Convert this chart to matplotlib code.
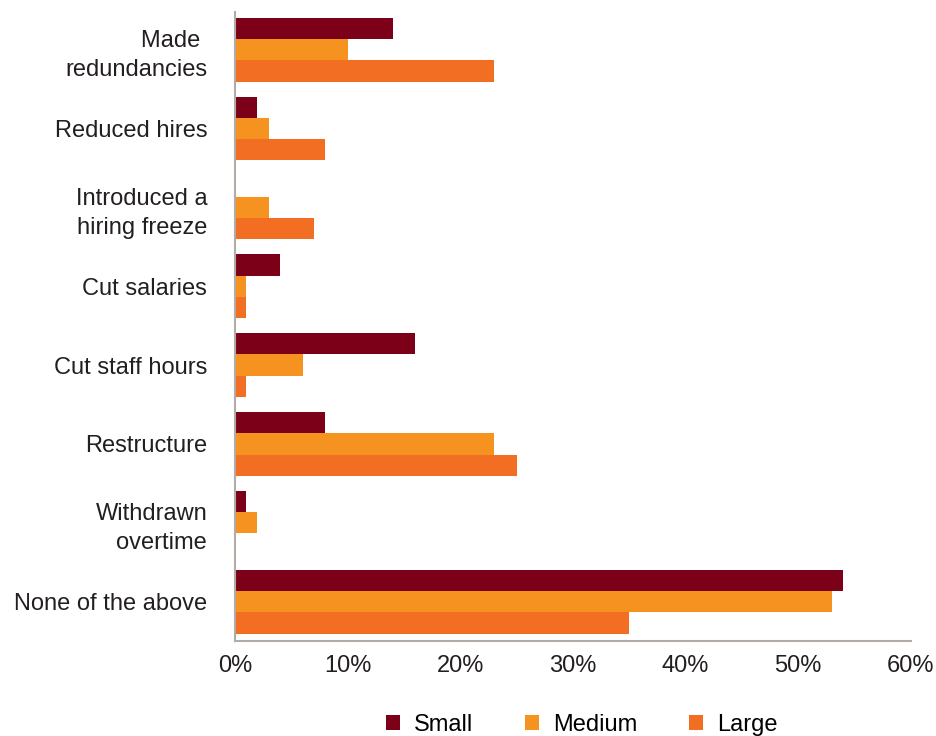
import numpy as np
import matplotlib
matplotlib.use("Agg")
import matplotlib.pyplot as plt
from matplotlib.ticker import FuncFormatter

plt.rcParams["font.family"] = ["Liberation Sans", "DejaVu Sans"]

categories = ["Made \nredundancies", "Reduced hires", "Introduced a\nhiring freeze",
              "Cut salaries", "Cut staff hours", "Restructure",
              "Withdrawn\novertime", "None of the above"]
small = [14, 2, 0, 4, 16, 8, 1, 54]
medium = [10, 3, 3, 1, 6, 23, 2, 53]
large = [23, 8, 7, 1, 1, 25, 0, 35]
series = ["Small", "Medium", "Large"]
colors = ["#7D0019", "#F69320", "#F26E23"]

fig = plt.figure(figsize=(9.36, 7.36), dpi=100)
ax = fig.add_axes([0.251, 0.129, 0.722, 0.855])

y = np.arange(len(categories))
h = 0.27
for i, (vals, name, c) in enumerate(zip([small, medium, large], series, colors)):
    ax.barh(y + (i - 1) * h, vals, height=h, color=c, label=name)

ax.set_ylim(len(categories) - 0.5, -0.48)
ax.set_xlim(0, 60)
ax.set_xticks(range(0, 61, 10))
ax.xaxis.set_major_formatter(FuncFormatter(lambda v, p: f"{v:.0f}%"))
ax.set_yticks(y)
ax.set_yticklabels(categories, ha="right", multialignment="right", linespacing=1.42)
ax.tick_params(axis="y", length=0, pad=20, labelsize=17, colors="#231f20")
ax.tick_params(axis="x", length=0, pad=10, labelsize=17, colors="#231f20")
for s in ["top", "right"]:
    ax.spines[s].set_visible(False)
for s in ["left", "bottom"]:
    ax.spines[s].set_color("#b3aca6")
    ax.spines[s].set_linewidth(1.5)

ax.legend(loc="upper center", bbox_to_anchor=(0.513, -0.082), ncol=3, frameon=False,
          fontsize=17, handlelength=0.6, handleheight=0.6, columnspacing=2.17,
          handletextpad=0.6)

fig.savefig("out.png", dpi=100)
